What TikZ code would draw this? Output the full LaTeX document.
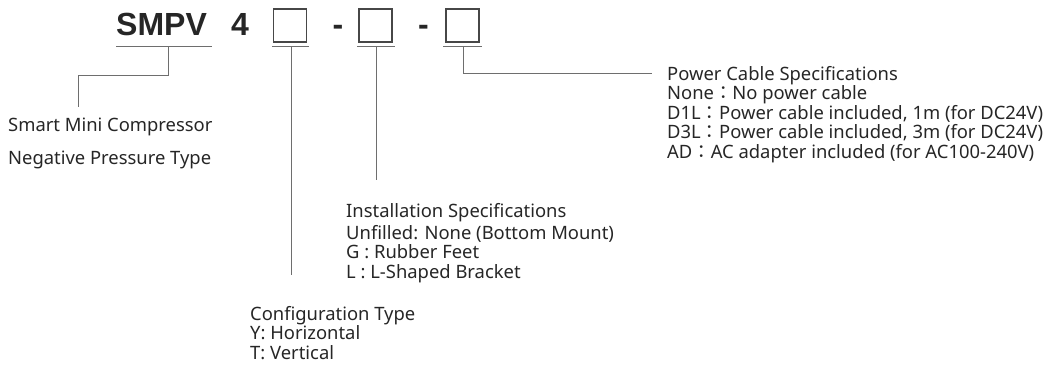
\documentclass[tikz,border=0pt]{standalone}
\usepackage{fontspec}
\setmainfont{Noto Sans}
\newfontfamily\titlefont{Liberation Sans}
\newfontfamily\cjk{Noto Sans CJK JP}
\usepackage{tikz}

\definecolor{txtgray}{HTML}{262626}
\definecolor{linegray}{HTML}{6E6E6E}
\newcommand{\fc}{\smash{\cjk ：}}

\begin{document}
\begin{tikzpicture}[x=1pt, y=-1pt]
            \tikzstyle{code}=[inner sep=0pt, font=\titlefont\bfseries\fontsize{32}{32}\selectfont, text=txtgray]
            \tikzstyle{slot}=[draw=txtgray!85, line width=1.3pt, inner sep=0pt, minimum width=33pt, minimum height=33pt]
            \tikzstyle{rule}=[draw=linegray, line width=1pt]
            \tikzstyle{spec}=[inner sep=0pt, anchor=north west, align=left, text=txtgray, font=\fontsize{18.4}{19.5}\selectfont]

                \useasboundingbox (0,0) rectangle (1056,365);

                % Code
                \node[code, anchor=base west] (smpv) at (116,35) {SMPV};
                \node[code, anchor=base west] (four) at (231,35) {4};
                \node[slot] (b1) at (290,25.5) {};
                \node[code, anchor=base] (d1) at (338,35) {-};
                \node[slot] (b2) at (375.5,25.5) {};
                \node[code, anchor=base] (d2) at (423.5,35) {-};
                \node[slot] (b3) at (462.5,25.5) {};

                % Unterstriche
                \coordinate (u0) at (168,46);
                \coordinate (u1) at (291,46);
                \coordinate (u2) at (376,46);
                \coordinate (u3) at (463,46);
                \draw[rule] (116,46) -- (212,46);
                \draw[rule] (272,46) -- (309,46);
                \draw[rule] (357,46) -- (395,46);
                \draw[rule] (443,46) -- (482,46);

                % Texte
                \node[spec, anchor=base west] (smart) at (8,131) {Smart Mini Compressor};
                \node[spec, anchor=base west] (neg) at (8,164) {Negative Pressure Type};
                \node[spec] (power) at (667,66) {Power Cable Specifications\\
                    None\fc No power cable\\
                    D1L\fc Power cable included, 1m (for DC24V)\\
                    D3L\fc Power cable included, 3m (for DC24V)\\
                    AD\fc AC adapter included (for AC100-240V)};
                \node[spec, anchor=base west] (inst) at (346,217) {Installation Specifications};
                \node[spec] (instl) at (346,225) {Unfilled: None (Bottom Mount)\\
                    G : Rubber Feet\\
                    L : L-Shaped Bracket};
                \node[spec] (conf) at (250,306) {Configuration Type\\
                    Y: Horizontal\\
                    T: Vertical};

                % Linien
                \coordinate (e0) at (78,107);
                \coordinate (e1) at (291,275);
                \coordinate (e2) at (376,180);
                \coordinate (e3) at (652,73);
                \draw[rule] (u0) -- (168,75) -| (e0);
                \draw[rule] (u1) -- (e1);
                \draw[rule] (u2) -- (e2);
                \draw[rule] (u3) |- (e3);
        \end{tikzpicture}
\end{document}
